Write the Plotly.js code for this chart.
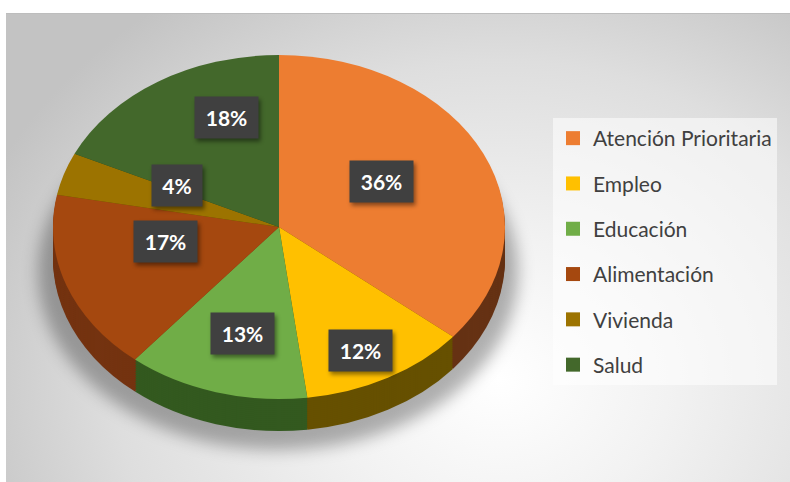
<!DOCTYPE html>
<html>
<head>
<meta charset="utf-8">
<script src="https://cdn.plot.ly/plotly-3.0.1.min.js"></script>
<style>
  html, body { margin: 0; padding: 0; background: #ffffff; }
  #bg {
    position: absolute; left: 6px; top: 13px; width: 784px; height: 469px;
    border-top: 1px solid #bdbdbd;
    background: radial-gradient(ellipse 72% 100% at 63% 78%, #ffffff 0%, #f2f2f2 30%, #dedede 68%, #c3c3c3 100%);
  }
  #chart { position: absolute; left: 0; top: 0; width: 790px; height: 482px; }
  .annotation rect.bg { filter: drop-shadow(2px 3px 2px rgba(0,0,0,0.45)); }
  .layer-below .shapelayer path { filter: blur(8px); }
</style>
</head>
<body>
<div id="bg"></div>
<div id="chart"></div>
<script>
// ---- data ----
const categories = ['Atención Prioritaria', 'Empleo', 'Educación', 'Alimentación', 'Vivienda', 'Salud'];
const values = [36, 12, 13, 17, 4, 18];

// ---- styles ----
const topColors  = ['#ED7D31', '#FFC000', '#70AD47', '#A5480F', '#9C7300', '#43682B'];
const wallColors = ['#663214', '#665000', '#33591F', '#743310', '#5E4500', '#2A4219'];
// data-label box centres (page px), layout only
const labelCentres = [[381, 181], [360, 350], [243, 333], [165, 241], [177, 186], [226, 117]];

const W = 790, H = 482;
const cx = 279, R = 226;          // pre-scale pie centre x and radius
const Yp = 241;                   // pre-scale pie centre y
const Y0 = 227, ry = 172;         // final ellipse centre y and vertical radius
const s = ry / R;
const depth = 32, step = 2;

const domain = {
  x: [(cx - R) / W, (cx + R) / W],
  y: [(H - Yp - R) / H, (H - Yp + R) / H]
};

const total = values.reduce((a, b) => a + b, 0);
const traces = [];
const offsets = [];
for (let off = depth; off >= step; off -= step) {
  traces.push({
    type: 'pie', values: values, labels: categories, sort: false,
    direction: 'clockwise', rotation: 0, textinfo: 'none', hoverinfo: 'skip',
    showlegend: false, domain: domain,
    marker: { colors: wallColors, line: { width: 0 } }
  });
  offsets.push(off);
}
traces.push({
  type: 'pie', values: values, labels: categories, sort: false,
  direction: 'clockwise', rotation: 0, textinfo: 'none', hoverinfo: 'skip',
  showlegend: false, domain: domain,
  marker: { colors: topColors, line: { width: 0 } }
});
offsets.push(0);

// legend entries
categories.forEach((c, i) => {
  traces.push({
    type: 'scatter', mode: 'markers', x: [null], y: [null], name: c,
    legendgroup: 'g' + i, showlegend: true, hoverinfo: 'skip',
    marker: { symbol: 'square', size: 14, color: topColors[i] }
  });
});

const annotations = values.map((v, i) => {
  const txt = Math.round(v / total * 100) + '%';
  return {
    xref: 'paper', yref: 'paper',
    x: labelCentres[i][0] / W, y: 1 - labelCentres[i][1] / H,
    xanchor: 'center', yanchor: 'middle',
    text: '<b>' + txt + '</b>', showarrow: false,
    font: { family: 'Lato, sans-serif', size: 21, color: '#ffffff' },
    bgcolor: '#404040', borderpad: 7,
    width: txt.length === 2 ? 36 : 49, height: 27
  };
});

const layout = {
  width: W, height: H,
  margin: { l: 0, r: 0, t: 0, b: 0 },
  paper_bgcolor: 'rgba(0,0,0,0)', plot_bgcolor: 'rgba(0,0,0,0)',
  xaxis: { visible: false }, yaxis: { visible: false },
  showlegend: true,
  legend: {
    x: 553 / W, y: 1 - 118 / H, xanchor: 'left', yanchor: 'top',
    bgcolor: 'rgba(255,255,255,0.55)', borderwidth: 0,
    font: { family: 'Lato, sans-serif', size: 21, color: '#404040' },
    tracegroupgap: 15, itemwidth: 30
  },
  shapes: [{
    type: 'circle', xref: 'paper', yref: 'paper', layer: 'below',
    x0: 38 / W, x1: 518 / W, y0: 1 - 450 / H, y1: 1 - 95 / H,
    fillcolor: 'rgba(0,0,0,0.3)', line: { width: 0 }
  }],
  annotations: annotations
};

Plotly.newPlot('chart', traces, layout, { staticPlot: true, displayModeBar: false }).then(() => {
  const groups = document.querySelectorAll('.pielayer > g.trace');
  groups.forEach((g, i) => {
    const off = offsets[i] || 0;
    const ty = Y0 + off - s * Yp;
    g.setAttribute('transform', 'translate(0,' + ty + ') scale(1,' + s + ')');
  });
});
</script>
</body>
</html>
